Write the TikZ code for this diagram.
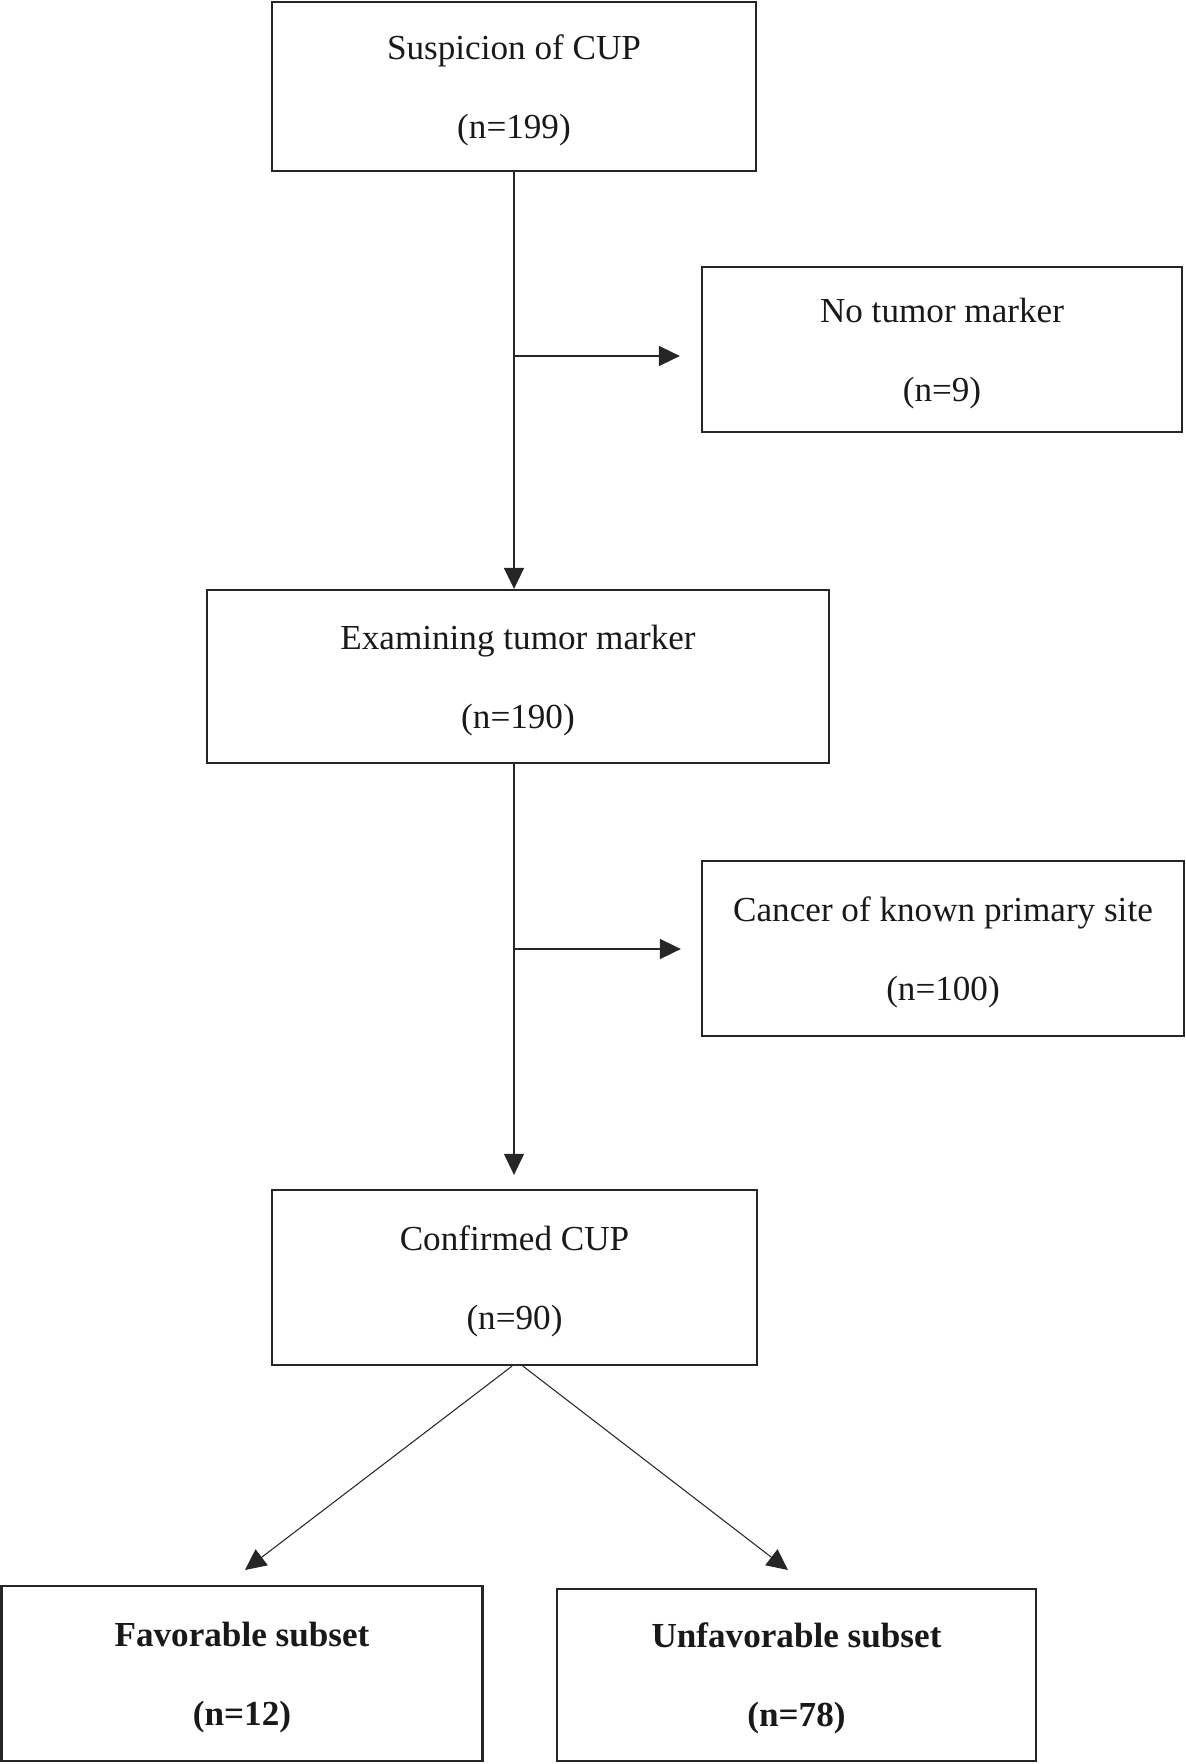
\documentclass[tikz,border=0pt]{standalone}
\usepackage{fontspec}
\setmainfont{Liberation Serif}
\usetikzlibrary{arrows.meta}
\usetikzlibrary{positioning}

\begin{document}
\begin{tikzpicture}[x=1cm,y=-1cm,
  stagebox/.style={draw=black!85,line width=1.3pt,align=center,inner sep=0pt,text depth=0pt,text=black!90,font=\fontsize{20}{45}\selectfont},
  flowline/.style={draw=black!85,-{Triangle[length=0.42cm,width=0.4cm]}}]
\useasboundingbox (0,0) rectangle (23.7,35.28);

\node[stagebox,minimum width=9.68cm,minimum height=3.38cm] (suspicion) at (10.28,1.73) {Suspicion of CUP\\(n=199)};
\node[stagebox,minimum width=9.6cm,minimum height=3.3cm] (notumor) at (18.84,6.99) {No tumor marker\\(n=9)};
\node[stagebox,minimum width=12.44cm,minimum height=3.46cm] (examining) at (10.36,13.53) {Examining tumor marker\\(n=190)};
\node[stagebox,minimum width=9.64cm,minimum height=3.5cm] (knownsite) at (18.86,18.97) {Cancer of known primary site\\(n=100)};
\node[stagebox,minimum width=9.7cm,minimum height=3.5cm] (confirmed) at (10.29,25.55) {Confirmed CUP\\(n=90)};
\node[stagebox,minimum width=9.62cm,minimum height=3.5cm] (favorable) at (4.84,33.47) {\textbf{Favorable subset}\\\textbf{(n=12)}};
\node[stagebox,minimum width=9.58cm,minimum height=3.44cm] (unfavorable) at (15.93,33.5) {\textbf{Unfavorable subset}\\\textbf{(n=78)}};

% branch points on the main line
\coordinate (split1) at (10.28,7.12);
\coordinate (split2) at (10.28,18.98);
\coordinate (favtip) at (4.9,31.4);
\coordinate (unfavtip) at (15.76,31.4);

\draw[flowline,line width=1pt] (suspicion.south) -- (suspicion.south |- examining.north);
\draw[flowline,line width=1pt,shorten >=0.42cm] (split1) -- (split1 -| notumor.west);
\draw[flowline,line width=0.6pt,shorten >=0.28cm] (suspicion.south |- examining.south) -- (suspicion.south |- confirmed.north);
\draw[flowline,line width=1pt,shorten >=0.4cm] (split2) -- (split2 -| knownsite.west);
\draw[flowline,line width=0.6pt] ([xshift=-0.05cm]confirmed.south) -- (favtip);
\draw[flowline,line width=0.6pt] ([xshift=0.17cm]confirmed.south) -- (unfavtip);

\end{tikzpicture}
\end{document}
